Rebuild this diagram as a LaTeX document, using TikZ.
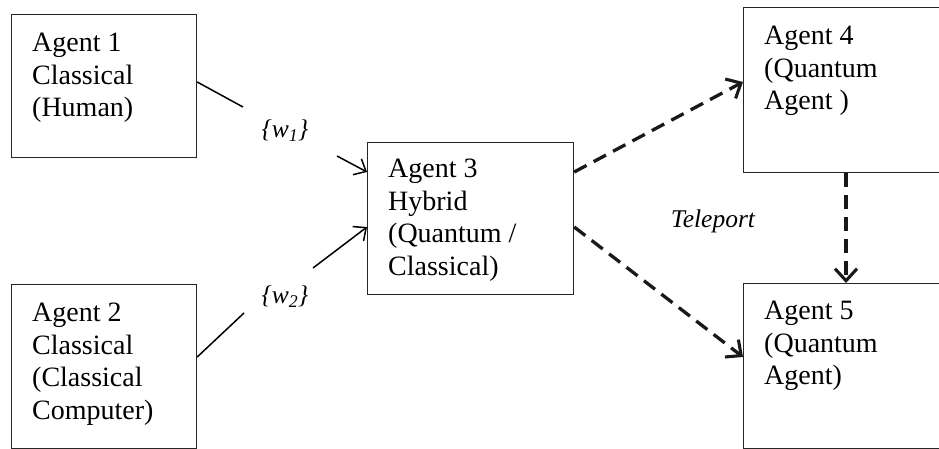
\documentclass[tikz,border=0pt]{standalone}
\usepackage{fontspec}
\setmainfont{Liberation Serif}
\usetikzlibrary{arrows.meta}
\begin{document}
\begin{tikzpicture}[x=1pt,y=-1pt,
  agentbox/.style={draw=black!85,line width=1.2pt,inner sep=0pt,anchor=north west},
  agenttext/.style={anchor=north west,inner sep=0pt,align=left,font=\fontsize{28}{32.5}\selectfont,text=black},
  lbl/.style={inner sep=0pt,font=\fontsize{25.5}{30}\selectfont\itshape,text=black},
  solidline/.style={line width=1.5pt,draw=black},
  solidarrow/.style={solidline,-{Straight Barb[length=10pt,width=18pt,line width=1.5pt]}},
  dashline/.style={line width=3.3pt,draw=black!90,dash pattern=on 14pt off 8pt,
    -{Straight Barb[length=12pt,width=22pt,line width=3.1pt]}}]
\useasboundingbox (0,0) rectangle (939,449);
% boxes
\node[agentbox,minimum width=185pt,minimum height=143pt] (a1) at (11,14) {};
\node[agentbox,minimum width=185pt,minimum height=164pt] (a2) at (11,284) {};
\node[agentbox,minimum width=206pt,minimum height=152pt] (a3) at (367,142) {};
\node[agentbox,minimum width=205pt,minimum height=165pt] (a4) at (743,7) {};
\node[agentbox,minimum width=205pt,minimum height=165pt] (a5) at (743,283) {};
% texts
\node[agenttext] (t1) at (32,33) {Agent 1\\Classical\\(Human)};
\node[agenttext] (t2) at (32,303) {Agent 2\\Classical\\(Classical\\Computer)};
\node[agenttext] (t3) at (388,159) {Agent 3\\Hybrid\\(Quantum /\\Classical)};
\node[agenttext] (t4) at (764,26) {Agent 4\\(Quantum\\Agent )};
\node[agenttext] (t5) at (764,301) {Agent 5\\(Quantum\\Agent)};
% labels
\node[lbl] (w1) at (285,131) {\{w\textsubscript{1}\}};
\node[lbl] (w2) at (285,297) {\{w\textsubscript{2}\}};
\node[lbl] (tp) at (713,221) {Teleport};
% solid connectors
\coordinate (m1) at (243,107);
\coordinate (m1b) at (337,156);
\coordinate (m2) at (244,313);
\coordinate (m2b) at (313,268);
\draw[solidline] (a1.east |- 0,82) -- (m1);
\draw[solidarrow] (m1b) -- (a3.west |- 0,172);
\draw[solidline] (a2.east |- 0,357) -- (m2);
\draw[solidarrow] (m2b) -- (a3.west |- 0,227);
% dashed connectors
\draw[dashline] (a3.east |- 0,172) -- (a4.west |- 0,82);
\draw[dashline] (a3.east |- 0,227) -- (a5.west |- 0,357);
\draw[dashline] (a4.south -| 846,0) -- (a5.north -| 846,0);
\end{tikzpicture}
\end{document}
